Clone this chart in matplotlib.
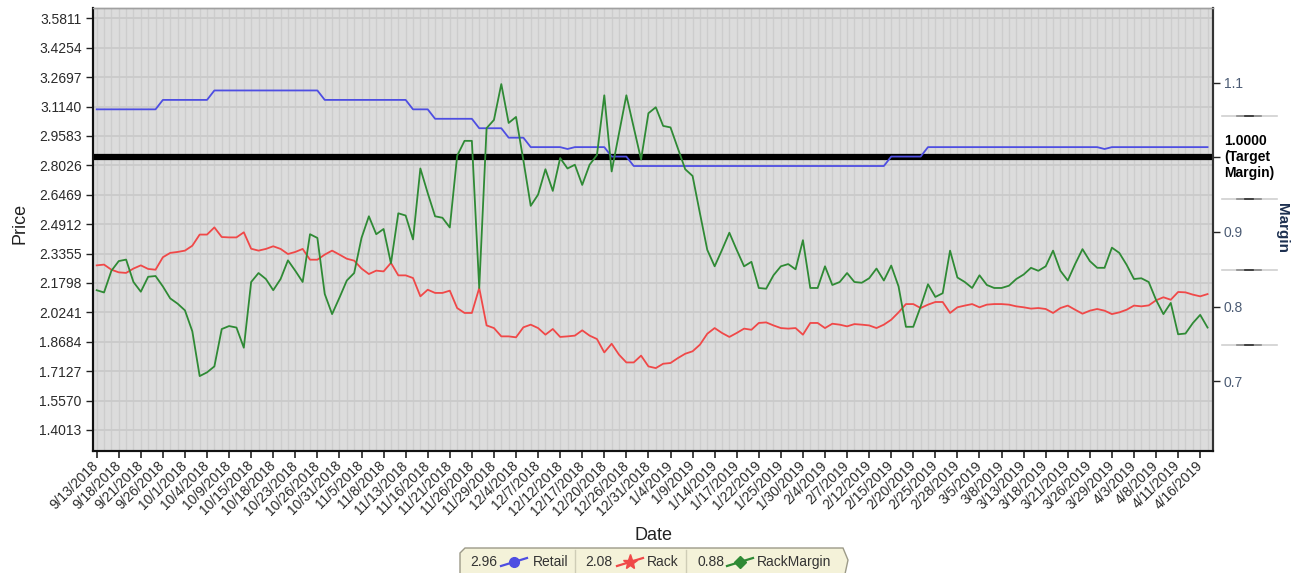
import matplotlib
matplotlib.use('Agg')
import matplotlib.pyplot as plt
import matplotlib.transforms as mtransforms
from matplotlib.patches import Polygon
from matplotlib.lines import Line2D
import numpy as np

plt.rcParams['font.family'] = ['Liberation Sans', 'DejaVu Sans']

# ---------------- data ----------------
date_labels = ['9/13/2018', '9/18/2018', '9/21/2018', '9/26/2018', '10/1/2018', '10/4/2018',
               '10/9/2018', '10/15/2018', '10/18/2018', '10/23/2018', '10/26/2018', '10/31/2018',
               '11/5/2018', '11/8/2018', '11/13/2018', '11/16/2018', '11/21/2018', '11/26/2018',
               '11/29/2018', '12/4/2018', '12/7/2018', '12/12/2018', '12/17/2018', '12/20/2018',
               '12/26/2018', '12/31/2018', '1/4/2019', '1/9/2019', '1/14/2019', '1/17/2019',
               '1/22/2019', '1/25/2019', '1/30/2019', '2/4/2019', '2/7/2019', '2/12/2019',
               '2/15/2019', '2/20/2019', '2/25/2019', '2/28/2019', '3/5/2019', '3/8/2019',
               '3/13/2019', '3/18/2019', '3/21/2019', '3/26/2019', '3/29/2019', '4/3/2019',
               '4/8/2019', '4/11/2019', '4/16/2019']

retail = [3.099, 3.099, 3.099, 3.099, 3.099, 3.099, 3.099, 3.099, 3.099, 3.149,
          3.149, 3.149, 3.149, 3.149, 3.149, 3.149, 3.199, 3.199, 3.199, 3.199,
          3.199, 3.199, 3.199, 3.199, 3.199, 3.199, 3.199, 3.199, 3.199, 3.199,
          3.199, 3.149, 3.149, 3.149, 3.149, 3.149, 3.149, 3.149, 3.149, 3.149,
          3.149, 3.149, 3.149, 3.099, 3.099, 3.099, 3.049, 3.049, 3.049, 3.049,
          3.049, 3.049, 2.999, 2.999, 2.999, 2.999, 2.949, 2.949, 2.949, 2.899,
          2.899, 2.899, 2.899, 2.899, 2.889, 2.899, 2.899, 2.899, 2.899, 2.899,
          2.849, 2.849, 2.849, 2.799, 2.799, 2.799, 2.799, 2.799, 2.799, 2.799,
          2.799, 2.799, 2.799, 2.799, 2.799, 2.799, 2.799, 2.799, 2.799, 2.799,
          2.799, 2.799, 2.799, 2.799, 2.799, 2.799, 2.799, 2.799, 2.799, 2.799,
          2.799, 2.799, 2.799, 2.799, 2.799, 2.799, 2.799, 2.799, 2.849, 2.849,
          2.849, 2.849, 2.849, 2.899, 2.899, 2.899, 2.899, 2.899, 2.899, 2.899,
          2.899, 2.899, 2.899, 2.899, 2.899, 2.899, 2.899, 2.899, 2.899, 2.899,
          2.899, 2.899, 2.899, 2.899, 2.899, 2.899, 2.899, 2.889, 2.899, 2.899,
          2.899, 2.899, 2.899, 2.899, 2.899, 2.899, 2.899, 2.899, 2.899, 2.899,
          2.899, 2.899]

rack = [2.273, 2.277, 2.250, 2.236, 2.233, 2.256, 2.273, 2.254, 2.250, 2.316,
        2.339, 2.344, 2.351, 2.377, 2.436, 2.436, 2.474, 2.423, 2.421, 2.421,
        2.448, 2.361, 2.351, 2.360, 2.374, 2.360, 2.333, 2.344, 2.360, 2.303,
        2.303, 2.330, 2.351, 2.330, 2.308, 2.298, 2.256, 2.227, 2.245, 2.241,
        2.286, 2.220, 2.220, 2.206, 2.109, 2.144, 2.127, 2.127, 2.139, 2.047,
        2.021, 2.021, 2.153, 1.955, 1.941, 1.897, 1.897, 1.892, 1.945, 1.959,
        1.941, 1.906, 1.936, 1.894, 1.897, 1.901, 1.929, 1.901, 1.883, 1.812,
        1.858, 1.800, 1.759, 1.759, 1.795, 1.738, 1.729, 1.752, 1.756, 1.782,
        1.805, 1.818, 1.853, 1.911, 1.941, 1.915, 1.894, 1.915, 1.938, 1.932,
        1.968, 1.971, 1.955, 1.941, 1.938, 1.941, 1.906, 1.968, 1.968, 1.941,
        1.964, 1.959, 1.950, 1.962, 1.959, 1.955, 1.941, 1.959, 1.985, 2.024,
        2.068, 2.068, 2.047, 2.065, 2.079, 2.079, 2.021, 2.051, 2.060, 2.068,
        2.051, 2.065, 2.068, 2.068, 2.065, 2.056, 2.051, 2.044, 2.047, 2.042,
        2.021, 2.047, 2.060, 2.038, 2.017, 2.033, 2.042, 2.033, 2.015, 2.024,
        2.038, 2.060, 2.056, 2.061, 2.088, 2.104, 2.091, 2.132, 2.130, 2.118,
        2.109, 2.121]

rack_margin = [0.822, 0.819, 0.848, 0.861, 0.863, 0.833, 0.820, 0.840, 0.841, 0.827,
               0.811, 0.804, 0.795, 0.767, 0.707, 0.712, 0.720, 0.770, 0.774, 0.772,
               0.745, 0.833, 0.845, 0.837, 0.822, 0.837, 0.862, 0.848, 0.833, 0.897,
               0.892, 0.817, 0.790, 0.812, 0.835, 0.845, 0.892, 0.921, 0.897, 0.904,
               0.858, 0.925, 0.922, 0.890, 0.985, 0.952, 0.921, 0.919, 0.906, 1.002,
               1.022, 1.022, 0.825, 1.039, 1.050, 1.098, 1.046, 1.054, 0.996, 0.935,
               0.950, 0.984, 0.955, 0.999, 0.985, 0.990, 0.963, 0.990, 1.003, 1.083,
               0.981, 1.032, 1.083, 1.040, 0.997, 1.059, 1.067, 1.042, 1.040, 1.012,
               0.984, 0.975, 0.925, 0.876, 0.854, 0.876, 0.899, 0.876, 0.854, 0.860,
               0.825, 0.824, 0.842, 0.854, 0.857, 0.850, 0.889, 0.825, 0.825, 0.854,
               0.829, 0.833, 0.845, 0.833, 0.832, 0.838, 0.851, 0.835, 0.855, 0.827,
               0.773, 0.773, 0.800, 0.830, 0.813, 0.818, 0.875, 0.839, 0.833, 0.825,
               0.842, 0.829, 0.825, 0.825, 0.828, 0.837, 0.843, 0.852, 0.848, 0.854,
               0.875, 0.848, 0.835, 0.857, 0.877, 0.861, 0.852, 0.852, 0.879, 0.872,
               0.856, 0.837, 0.838, 0.833, 0.809, 0.790, 0.805, 0.763, 0.764, 0.778,
               0.789, 0.772]

price_ticks = [1.4013, 1.5570, 1.7127, 1.8684, 2.0241, 2.1798, 2.3355, 2.4912,
               2.6469, 2.8026, 2.9583, 3.1140, 3.2697, 3.4254, 3.5811]
margin_ticks = [0.7, 0.8, 0.9, 1.0, 1.1]
margin_tick_labels = ['0.7', '0.8', '0.9', '1.0000\n(Target\nMargin)', '1.1']
target_margin = 1.0
legend_values = ['2.96', '2.08', '0.88']
legend_names = ['Retail', 'Rack', 'RackMargin']

# ---------------- styling ----------------
C_RETAIL = '#4e4ee2'
C_RACK = '#f04848'
C_MARGIN = '#2f8a35'

W, H = 1291, 573
fig = plt.figure(figsize=(W / 100, H / 100), dpi=100)
fig.patch.set_facecolor('white')

def fxp(px):
    return px / W

def fyp(py):
    return 1 - py / H

ax = fig.add_axes([fxp(92.7), fyp(451), 1120 / W, 442.7 / H])
ax2 = ax.twinx()

x = np.arange(len(retail))

ax.set_facecolor('#dcdcdc')
ax.set_xlim(-0.54, 151.7)
ax.set_ylim(1.2901, 3.634)
ax2.set_ylim(0.6067, 1.1995)

# grid
ax.set_xticks(x[::3])
ax.set_xticklabels(date_labels, rotation=45, ha='right', va='center',
                   rotation_mode='anchor', fontsize=10, color='#2a2a2a')
ax.set_xticks(x, minor=True)
ax.grid(which='both', axis='x', color='#cdcdcd', lw=1.0)
ax.set_yticks(price_ticks)
ax.set_yticklabels([f'{v:.4f}' for v in price_ticks], fontsize=10, color='#2a2a2a')
ax.grid(which='major', axis='y', color='#cacaca', lw=1.3)
ax.set_axisbelow(True)
ax.tick_params(which='minor', length=0)
ax.tick_params(axis='x', which='major', length=5, width=1.2, pad=4, color='#222222')
ax.tick_params(axis='y', length=5, width=1.0, pad=3, color='#222222')

# target margin line (in margin units, drawn beneath the price lines)
trans_tm = mtransforms.blended_transform_factory(ax.transAxes, ax2.transData)
ax.plot([0, 1], [target_margin, target_margin], transform=trans_tm,
        color='black', lw=4.5, zorder=2, solid_capstyle='butt')

ax.plot(x, retail, color=C_RETAIL, lw=1.3, zorder=3)
ax.plot(x, rack, color=C_RACK, lw=1.3, zorder=3)
ax2.plot(x, rack_margin, color=C_MARGIN, lw=1.3, zorder=3)

# right axis
ax2.set_yticks(margin_ticks)
ax2.set_yticklabels(margin_tick_labels, fontsize=10)
for lab in ax2.get_yticklabels():
    if '(' in lab.get_text():
        lab.set_fontweight('bold')
        lab.set_color('black')
        lab.set_va('center')
        lab.set_multialignment('left')
    else:
        lab.set_color('#4b5b74')
ax2.tick_params(axis='y', length=5, width=1.0, pad=3, color='#222222')

# separators on the right margin axis
trans_r = mtransforms.blended_transform_factory(ax2.transAxes, ax2.transData)
for yv in [1.055, 0.944, 0.849, 0.749]:
    ax2.plot([1.008, 1.057], [yv, yv], transform=trans_r, clip_on=False,
             color='#d0d0d0', lw=1.2)
    ax2.plot([1.022, 1.043], [yv, yv], transform=trans_r, clip_on=False,
             color='#8a8a8a', lw=1.2)
    ax2.plot([1.029, 1.036], [yv, yv], transform=trans_r, clip_on=False,
             color='#333333', lw=1.2)

# spines
for a in (ax, ax2):
    a.spines['left'].set_color('#111111')
    a.spines['left'].set_linewidth(1.5)
    a.spines['bottom'].set_color('#111111')
    a.spines['bottom'].set_linewidth(1.5)
    a.spines['right'].set_color('#333333')
    a.spines['right'].set_linewidth(1.5)
    a.spines['top'].set_color('#a0a0a0')
    a.spines['top'].set_linewidth(1.0)

# axis titles
fig.text(fxp(20), fyp(223), 'Price', rotation=90, ha='center', va='center',
         fontsize=13, color='#222222')
fig.text(fxp(653), fyp(535), 'Date', ha='center', va='center',
         fontsize=13, color='#222222')
fig.text(fxp(1282), fyp(228), 'Margin', rotation=270, ha='center', va='center',
         fontsize=11, fontweight='bold', color='#1d3050')

# legend box
box = Polygon([(fxp(465), fyp(548)), (fxp(843), fyp(548)), (fxp(848), fyp(560)),
               (fxp(845), fyp(574)), (fxp(460), fyp(574)), (fxp(460), fyp(553))],
              closed=True, transform=fig.transFigure, facecolor='#f4f2d9',
              edgecolor='#9c9a88', lw=1.0)
fig.add_artist(box)
for dx in (575, 686):
    fig.add_artist(Line2D([fxp(dx), fxp(dx)], [fyp(550), fyp(573)],
                          transform=fig.transFigure, color='#cfcdb6', lw=1.0))

leg_y = 562
items = [(470, 514, 533, C_RETAIL, 'o', 7),
         (585, 630, 647, C_RACK, '*', 11),
         (697, 740, 757, C_MARGIN, 'D', 6)]
for (vx, mx, nx, col, mk, ms), val, name in zip(items, legend_values, legend_names):
    fig.text(fxp(vx), fyp(leg_y), val, ha='left', va='center', fontsize=10, color='#333333')
    fig.add_artist(Line2D([fxp(mx - 13), fxp(mx + 13)], [fyp(leg_y + 4), fyp(leg_y - 4)],
                          transform=fig.transFigure, color=col, lw=1.6))
    fig.add_artist(Line2D([fxp(mx)], [fyp(leg_y)], transform=fig.transFigure,
                          marker=mk, markersize=ms, color=col, markeredgecolor=col))
    fig.text(fxp(nx), fyp(leg_y), name, ha='left', va='center', fontsize=10, color='#333333')

fig.savefig('out.png', dpi=100)
